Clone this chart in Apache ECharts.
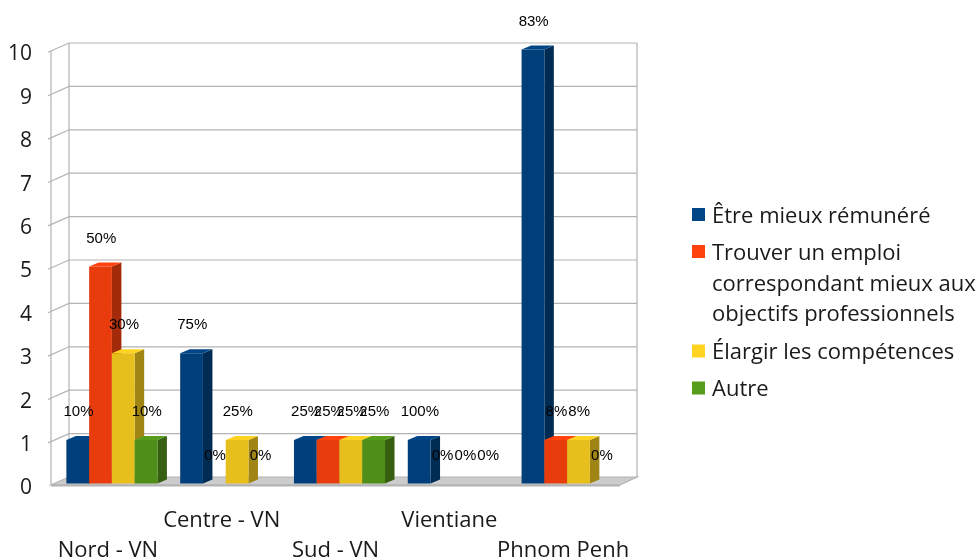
<!DOCTYPE html>
<html>
<head>
<meta charset="utf-8">
<script src="https://cdn.jsdelivr.net/npm/echarts@6/dist/echarts.min.js"></script>
<style>html,body{margin:0;padding:0;background:#fff}#c{width:979px;height:560px}</style>
</head>
<body>
<div id="c"></div>
<script>
const categories = ['Nord - VN', 'Centre - VN', 'Sud - VN', 'Vientiane', 'Phnom Penh'];
const seriesNames = ['Être mieux rémunéré', 'Trouver un emploi\ncorrespondant mieux aux\nobjectifs professionnels', 'Élargir les compétences', 'Autre'];
const etreValues = [1, 3, 1, 1, 10];
const trouverValues = [5, 0, 1, 0, 1];
const elargirValues = [3, 1, 1, 0, 1];
const autreValues = [1, 0, 1, 0, 0];
const etrePct = ['10%', '75%', '25%', '100%', '83%'];
const trouverPct = ['50%', '0%', '25%', '0%', '8%'];
const elargirPct = ['30%', '25%', '25%', '0%', '8%'];
const autrePct = ['10%', '0%', '25%', '0%', '0%'];
const yTicks = [0, 1, 2, 3, 4, 5, 6, 7, 8, 9, 10];

const allValues = [etreValues, trouverValues, elargirValues, autreValues];
const allPct = [etrePct, trouverPct, elargirPct, autrePct];
const legendColors = ['#004586', '#ff420e', '#ffd320', '#579d1c'];
const faces = [
  {front: '#003f7a', side: '#002c53', top: '#004586'},
  {front: '#e83c0d', side: '#a32b09', top: '#ff420e'},
  {front: '#e6bf1d', side: '#a08515', top: '#ffd320'},
  {front: '#4f8f19', side: '#375f11', top: '#579d1c'}
];
const WALL_DX = 18, WALL_DY = 8, BAR_DX = 9.5, BAR_DY = 4, BAR_OX = 4, BAR_OY = 1.5;
const LINE = '#b3b3b3';

function wallItem(params, api) {
  const g = params.coordSys;
  const tick = api.value(0);
  const y = api.coord([0, tick])[1];
  const x0 = g.x, x1 = g.x + g.width;
  const children = [];
  if (tick === 0) {
    children.push({type: 'polygon', shape: {points: [[x0, y], [x1, y], [x1 + WALL_DX - 1, y - WALL_DY], [x0 + WALL_DX, y - WALL_DY]]},
      style: {fill: '#cccccc', stroke: LINE, lineWidth: 1.2}});
    children.push({type: 'line', shape: {x1: x0, y1: y + 0.5, x2: x1, y2: y + 0.5}, style: {stroke: LINE, lineWidth: 2}});
    children.push({type: 'line', shape: {x1: x0, y1: g.y, x2: x0, y2: y}, style: {stroke: LINE, lineWidth: 1.2}});
    children.push({type: 'line', shape: {x1: x0 + WALL_DX, y1: g.y - WALL_DY, x2: x0 + WALL_DX, y2: y - WALL_DY}, style: {stroke: LINE, lineWidth: 1.2}});
    children.push({type: 'line', shape: {x1: x1 + WALL_DX - 1, y1: g.y - WALL_DY, x2: x1 + WALL_DX - 1, y2: y - WALL_DY}, style: {stroke: LINE, lineWidth: 1.2}});
  } else {
    children.push({type: 'polyline', shape: {points: [[x0 - 3, y + 1.3], [x0 + WALL_DX, y - WALL_DY], [x1 + WALL_DX - 1, y - WALL_DY]]},
      style: {fill: 'none', stroke: LINE, lineWidth: 1.2}});
  }
  return {type: 'group', children};
}

function barRenderer(si) {
  return function (params, api) {
    const cat = api.value(0), v = api.value(1);
    if (!v) return null;
    const band = api.size([1, 0])[0];
    const w = band * 0.2;
    const c = api.coord([cat, v]), b = api.coord([cat, 0]);
    const xl = c[0] + (si - 2) * w + BAR_OX, xr = xl + w;
    const yt = c[1] - BAR_OY, yb = b[1] - BAR_OY;
    const f = faces[si];
    return {type: 'group', children: [
      {type: 'polygon', shape: {points: [[xr, yt], [xr + BAR_DX, yt - BAR_DY], [xr + BAR_DX, yb - BAR_DY], [xr, yb]]}, style: {fill: f.side}},
      {type: 'polygon', shape: {points: [[xl, yt], [xl + BAR_DX, yt - BAR_DY], [xr + BAR_DX, yt - BAR_DY], [xr, yt]]}, style: {fill: f.top}},
      {type: 'rect', shape: {x: xl, y: yt, width: w, height: yb - yt}, style: {fill: f.front}}
    ]};
  };
}

function labelRenderer(si) {
  return function (params, api) {
    const cat = api.value(0), v = api.value(1);
    const band = api.size([1, 0])[0];
    const w = band * 0.2;
    const c = api.coord([cat, v]);
    return {type: 'text', style: {
      text: allPct[si][cat], x: c[0] + (si - 1.5) * w + BAR_OX + 0.7, y: c[1] - 29.5,
      align: 'center', verticalAlign: 'middle',
      font: '15px "Liberation Sans"', fill: '#000'
    }};
  };
}

const series = [{
  type: 'custom', name: 'walls', z: 1, silent: true, coordinateSystem: 'cartesian2d',
  renderItem: wallItem, data: yTicks.map(t => [t]), encode: {y: 0}
}];
allValues.forEach((vals, si) => series.push({
  type: 'custom', name: seriesNames[si], z: 2 + si, silent: true,
  renderItem: barRenderer(si), data: vals.map((v, i) => [i, v]), encode: {x: 0, y: 1}
}));
allValues.forEach((vals, si) => series.push({
  type: 'custom', name: 'labels' + si, z: 10, silent: true,
  renderItem: labelRenderer(si), data: vals.map((v, i) => [i, v]), encode: {x: 0, y: 1}
}));

const legendY = [214.5, 251.5, 351, 388];
const legendGraphics = [];
seriesNames.forEach((name, i) => {
  legendGraphics.push({type: 'rect', left: 692, top: legendY[i] - 6.5, shape: {width: 13, height: 13}, style: {fill: legendColors[i]}});
  legendGraphics.push({type: 'text', left: 712, top: legendY[i] - (i < 2 ? 13 : 14), style: {
    text: name, font: '22px "Open Sans"', lineHeight: 30.5, fill: '#1a1a1a', verticalAlign: 'top'
  }});
});

const chart = echarts.init(document.getElementById('c'), null, {renderer: 'canvas'});
chart.setOption({
  animation: false,
  backgroundColor: '#fff',
  grid: {left: 51, top: 51, width: 569, height: 434, containLabel: false, outerBoundsMode: 'none'},
  xAxis: {
    type: 'category', data: categories,
    axisLine: {show: false}, axisTick: {show: false}, splitLine: {show: false},
    axisLabel: {
      interval: 0, margin: 21, color: '#1a1a1a', fontFamily: 'Open Sans', fontSize: 22, lineHeight: 29.5,
      verticalAlign: 'top',
      formatter: (v, i) => (i % 2 === 0 ? '\n' : '') + v
    }
  },
  yAxis: {
    type: 'value', min: 0, max: 10, interval: 1,
    axisLine: {show: false}, axisTick: {show: false}, splitLine: {show: false},
    axisLabel: {margin: 19, color: '#1a1a1a', fontFamily: 'Open Sans', fontSize: 21, verticalAlign: 'top', lineHeight: 7}
  },
  graphic: legendGraphics,
  series
});
</script>
</body>
</html>
